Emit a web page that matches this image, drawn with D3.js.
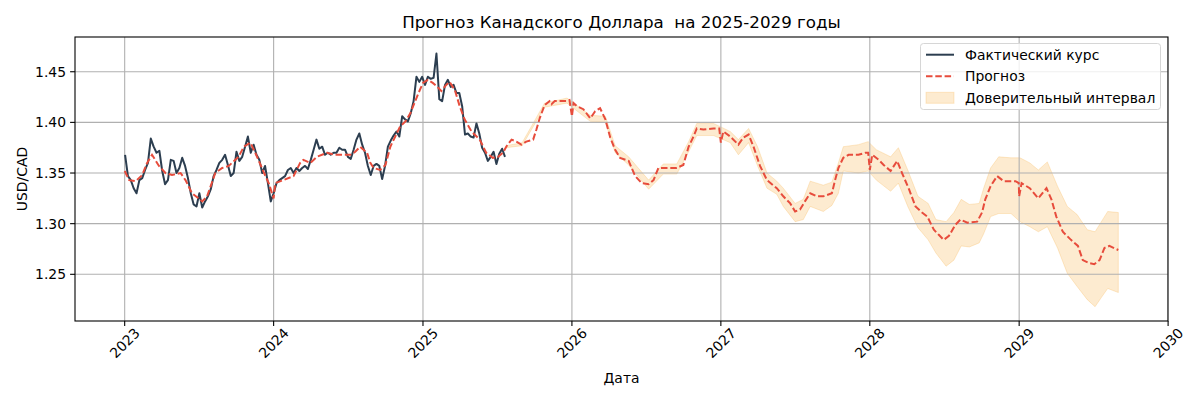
<!DOCTYPE html>
<html><head><meta charset="utf-8">
<script src="https://cdn.jsdelivr.net/npm/d3@7"></script>
<style>body{margin:0;background:#fff} text{font-family:"DejaVu Sans",sans-serif;fill:#000}</style>
</head><body><svg id="c" width="1200" height="400"></svg>
<script>
// ---------- data ----------
const actualStart = "2023-01-02";
const actualStepDays = 7;
const actualValues = [
1.368,1.347,1.343,1.335,1.330,1.343,1.345,1.353,1.360,1.384,
1.376,1.370,1.372,1.352,1.339,1.343,1.363,1.362,1.350,1.355,
1.365,1.357,1.345,1.330,1.319,1.317,1.330,1.316,1.322,1.327,
1.334,1.347,1.353,1.360,1.363,1.368,1.358,1.347,1.350,1.371,
1.362,1.366,1.376,1.386,1.370,1.378,1.368,1.363,1.350,1.357,
1.340,1.322,1.330,1.340,1.343,1.345,1.347,1.353,1.355,1.350,
1.355,1.352,1.355,1.357,1.354,1.363,1.373,1.383,1.374,1.376,
1.368,1.370,1.368,1.370,1.370,1.375,1.373,1.373,1.366,1.364,
1.373,1.383,1.389,1.378,1.370,1.357,1.348,1.357,1.359,1.357,
1.344,1.357,1.376,1.382,1.387,1.391,1.386,1.406,1.403,1.401,
1.409,1.421,1.445,1.440,1.445,1.437,1.445,1.443,1.444,1.468,
1.423,1.421,1.437,1.442,1.435,1.437,1.429,1.429,1.416,1.388,
1.389,1.386,1.385,1.399,1.389,1.375,1.370,1.362,1.366,1.371,
1.359,1.369,1.374,1.366];

const forecastDates = [
"2023-01-01","2023-01-12","2023-01-28","2023-02-13","2023-02-25","2023-03-09","2023-03-26","2023-04-11","2023-04-27","2023-05-18",
"2023-05-30","2023-06-15","2023-07-10","2023-07-22","2023-08-11","2023-08-28","2023-09-13","2023-10-07","2023-10-20","2023-11-05",
"2023-11-17","2023-11-30","2023-12-12","2023-12-20","2024-01-01","2024-01-05","2024-01-25","2024-02-19","2024-03-06","2024-03-14",
"2024-03-31","2024-04-16","2024-05-11","2024-05-31","2024-06-20","2024-07-07","2024-07-19","2024-07-31","2024-08-17","2024-08-25",
"2024-09-02","2024-09-18","2024-10-01","2024-10-13","2024-10-25","2024-11-06","2024-11-19","2024-12-01","2024-12-13","2024-12-21",
"2025-01-01","2025-01-13","2025-01-25","2025-02-03","2025-02-15","2025-02-27","2025-03-07","2025-03-20","2025-04-01","2025-04-13",
"2025-04-30","2025-05-20","2025-06-05","2025-06-21","2025-07-04","2025-07-16","2025-07-24","2025-08-06","2025-08-18","2025-08-30",
"2025-09-11","2025-09-28","2025-10-06","2025-10-14","2025-10-26","2025-11-07","2025-11-12","2025-11-20","2025-12-18","2025-12-26",
"2026-01-01","2026-01-05","2026-01-13","2026-01-29","2026-02-15","2026-02-27","2026-03-11","2026-03-24","2026-04-05","2026-04-17",
"2026-04-29","2026-05-20","2026-06-05","2026-06-21","2026-07-08","2026-07-20","2026-08-01","2026-08-13","2026-08-30","2026-09-15",
"2026-10-01","2026-10-14","2026-10-26","2026-11-03","2026-11-19","2026-12-14","2026-12-28","2027-01-01","2027-01-07","2027-01-24",
"2027-02-13","2027-02-25","2027-03-10","2027-03-22","2027-04-07","2027-04-24","2027-05-18","2027-06-03","2027-06-20","2027-07-02",
"2027-07-14","2027-07-26","2027-08-08","2027-08-24","2027-09-09","2027-09-30","2027-10-08","2027-10-16","2027-10-28","2027-11-10",
"2027-12-04","2027-12-21","2027-12-28","2028-01-01","2028-01-07","2028-01-23","2028-02-04","2028-02-21","2028-03-08","2028-03-20",
"2028-04-06","2028-04-22","2028-05-08","2028-05-21","2028-06-06","2028-06-18","2028-06-30","2028-07-13","2028-07-29","2028-08-10",
"2028-08-27","2028-09-20","2028-10-02","2028-10-10","2028-10-23","2028-11-08","2028-11-24","2028-12-23","2028-12-31","2029-01-01",
"2029-01-07","2029-01-27","2029-02-17","2029-03-09","2029-03-21","2029-04-02","2029-04-18","2029-05-08","2029-05-25","2029-06-06",
"2029-06-22","2029-07-04","2029-07-17","2029-07-29","2029-08-10","2029-09-01"];
const forecastValues = [
1.352,1.343,1.342,1.348,1.360,1.368,1.357,1.350,1.348,1.350,
1.343,1.330,1.322,1.327,1.350,1.355,1.357,1.366,1.376,1.380,
1.370,1.358,1.347,1.340,1.325,1.340,1.343,1.347,1.360,1.363,
1.360,1.366,1.370,1.368,1.368,1.368,1.371,1.376,1.370,1.360,
1.355,1.353,1.358,1.376,1.386,1.396,1.401,1.409,1.421,1.429,
1.439,1.442,1.439,1.436,1.431,1.437,1.440,1.432,1.416,1.403,
1.391,1.383,1.370,1.365,1.366,1.370,1.376,1.383,1.381,1.378,
1.381,1.383,1.393,1.404,1.417,1.421,1.418,1.421,1.421,1.422,
1.406,1.419,1.416,1.413,1.404,1.411,1.414,1.403,1.385,1.373,
1.365,1.362,1.347,1.340,1.339,1.343,1.355,1.355,1.355,1.355,
1.358,1.376,1.386,1.394,1.393,1.394,1.394,1.380,1.391,1.386,
1.378,1.385,1.388,1.376,1.357,1.343,1.335,1.327,1.320,1.312,
1.314,1.322,1.330,1.327,1.327,1.330,1.343,1.355,1.365,1.368,
1.368,1.370,1.370,1.353,1.368,1.363,1.358,1.352,1.362,1.350,
1.334,1.317,1.311,1.307,1.294,1.289,1.284,1.288,1.299,1.304,
1.301,1.302,1.311,1.324,1.337,1.347,1.342,1.342,1.340,1.327,
1.340,1.335,1.325,1.335,1.324,1.307,1.292,1.284,1.278,1.264,
1.261,1.260,1.264,1.276,1.278,1.274];

const ciDates = [
"2025-07-24","2025-09-01","2025-10-26","2025-12-20","2026-02-15","2026-03-24","2026-04-17","2026-05-20","2026-07-08","2026-08-13",
"2026-09-15","2026-10-14","2026-11-03","2026-12-14","2027-01-24","2027-02-13","2027-03-10","2027-04-01","2027-04-24","2027-05-18",
"2027-06-03","2027-07-02","2027-07-22","2027-08-08","2027-09-09","2027-09-30","2027-10-16","2027-10-28","2027-12-04","2027-12-28",
"2028-01-17","2028-02-21","2028-03-11","2028-04-03","2028-04-28","2028-05-23","2028-06-11","2028-07-06","2028-07-25","2028-08-12",
"2028-09-01","2028-09-25","2028-10-06","2028-10-23","2028-11-12","2028-12-12","2029-01-03","2029-01-27","2029-02-17","2029-03-11",
"2029-04-05","2029-04-29","2029-05-23","2029-06-17","2029-07-06","2029-07-23","2029-08-06","2029-09-01"];
const ciUpper = [
1.377,1.380,1.419,1.424,1.407,1.406,1.377,1.366,1.343,1.359,
1.359,1.381,1.399,1.399,1.391,1.383,1.394,1.376,1.350,1.342,
1.335,1.320,1.324,1.342,1.338,1.341,1.360,1.376,1.378,1.381,
1.373,1.366,1.375,1.353,1.327,1.320,1.304,1.302,1.311,1.324,
1.319,1.320,1.335,1.355,1.366,1.365,1.365,1.360,1.353,1.361,
1.337,1.317,1.309,1.294,1.292,1.303,1.312,1.311];
const ciLower = [
1.375,1.377,1.415,1.419,1.401,1.400,1.370,1.358,1.334,1.349,
1.349,1.371,1.387,1.387,1.380,1.368,1.380,1.357,1.335,1.329,
1.317,1.302,1.304,1.317,1.312,1.318,1.330,1.352,1.350,1.352,
1.343,1.332,1.340,1.317,1.296,1.284,1.271,1.258,1.264,1.278,
1.277,1.281,1.290,1.307,1.310,1.310,1.302,1.297,1.292,1.297,
1.276,1.251,1.238,1.225,1.218,1.228,1.236,1.232];

const yTickValues = [1.25, 1.30, 1.35, 1.40, 1.45];
const xTickYears = [2023, 2024, 2025, 2026, 2027, 2028, 2029, 2030];
const titleText = "Прогноз Канадского Доллара  на 2025-2029 годы";
const xLabel = "Дата";
const yLabel = "USD/CAD";
const legendLabels = ["Фактический курс", "Прогноз", "Доверительный интервал"];

// ---------- layout ----------
const L = 75, R = 1168, T = 37, B = 321;
const C_ACTUAL = "#2c3e50", C_FC = "#e74c3c", C_CI = "#f39c12";
const parse = d3.utcParse("%Y-%m-%d");

const actual = actualValues.map((v, i) => ({d: d3.utcDay.offset(parse(actualStart), i * actualStepDays), v}));
const forecast = forecastDates.map((d, i) => ({d: parse(d), v: forecastValues[i]}));
const ci = ciDates.map((d, i) => ({d: parse(d), u: ciUpper[i], l: ciLower[i]}));

const allDates = actual.map(p => p.d).concat(forecast.map(p => p.d));
const [d0, d1] = d3.extent(allDates);
const pad = (d1 - d0) * 0.05;
const x = d3.scaleUtc().domain([new Date(+d0 - pad), new Date(+d1 + pad)]).range([L, R]);
const y = d3.scaleLinear().domain([1.2039, 1.4843]).range([B, T]);

const svg = d3.select("#c");
svg.append("rect").attr("width", 1200).attr("height", 400).attr("fill", "#fff");

svg.append("defs").append("clipPath").attr("id", "clip")
  .append("rect").attr("x", L).attr("y", T).attr("width", R - L).attr("height", B - T);
const plot = svg.append("g").attr("clip-path", "url(#clip)");

// CI
plot.append("path").datum(ci)
  .attr("d", d3.area().x(p => x(p.d)).y0(p => y(p.l)).y1(p => y(p.u)))
  .attr("fill", C_CI).attr("fill-opacity", 0.2)
  .attr("stroke", C_CI).attr("stroke-opacity", 0.2).attr("stroke-width", 1);

// grid
const xTickDates = xTickYears.map(yr => new Date(Date.UTC(yr, 0, 1)));
plot.append("g").selectAll("line").data(xTickDates).join("line")
  .attr("x1", d => x(d)).attr("x2", d => x(d)).attr("y1", T).attr("y2", B)
  .attr("stroke", "#b0b0b0").attr("stroke-width", 1.1);
plot.append("g").selectAll("line").data(yTickValues).join("line")
  .attr("x1", L).attr("x2", R).attr("y1", d => y(d)).attr("y2", d => y(d))
  .attr("stroke", "#b0b0b0").attr("stroke-width", 1.1);

// lines
plot.append("path").datum(actual)
  .attr("d", d3.line().x(p => x(p.d)).y(p => y(p.v)))
  .attr("fill", "none").attr("stroke", C_ACTUAL).attr("stroke-width", 2).attr("stroke-linejoin", "round");
plot.append("path").datum(forecast)
  .attr("d", d3.line().x(p => x(p.d)).y(p => y(p.v)))
  .attr("fill", "none").attr("stroke", C_FC).attr("stroke-width", 2)
  .attr("stroke-dasharray", "6.5,2.8");

// spines
svg.append("rect").attr("x", L).attr("y", T).attr("width", R - L).attr("height", B - T)
  .attr("fill", "none").attr("stroke", "#000").attr("stroke-width", 1.1);

// x ticks
const xt = svg.append("g");
xTickDates.forEach((d, i) => {
  const px = x(d);
  xt.append("line").attr("x1", px).attr("x2", px).attr("y1", B).attr("y2", B + 4.9).attr("stroke", "#000").attr("stroke-width", 1.1);
  xt.append("text").attr("transform", `translate(${px},${B + 22}) rotate(-45)`)
    .attr("text-anchor", "middle").attr("dominant-baseline", "central")
    .attr("font-size", 13.9).text(xTickYears[i]);
});
// y ticks
const yt = svg.append("g");
yTickValues.forEach(v => {
  const py = y(v);
  yt.append("line").attr("x1", L - 4.9).attr("x2", L).attr("y1", py).attr("y2", py).attr("stroke", "#000").attr("stroke-width", 1.1);
  yt.append("text").attr("x", L - 9).attr("y", py).attr("text-anchor", "end").attr("dominant-baseline", "central")
    .attr("font-size", 13.9).text(d3.format(".2f")(v));
});

// labels
svg.append("text").attr("x", (L + R) / 2).attr("y", 28).attr("text-anchor", "middle")
  .attr("font-size", 16.7).style("white-space", "pre").text(titleText);
svg.append("text").attr("x", (L + R) / 2).attr("y", 383).attr("text-anchor", "middle")
  .attr("font-size", 13.9).text(xLabel);
svg.append("text").attr("transform", `translate(27,${(T + B) / 2}) rotate(-90)`).attr("text-anchor", "middle")
  .attr("font-size", 13.9).text(yLabel);

// legend
const lg = svg.append("g");
lg.append("rect").attr("x", 920.5).attr("y", 43.5).attr("width", 240).attr("height", 66).attr("rx", 3)
  .attr("fill", "#fff").attr("fill-opacity", 0.8).attr("stroke", "#d6d6d6").attr("stroke-width", 1);
const rows = [54.7, 76.3, 97.8];
lg.append("line").attr("x1", 926).attr("x2", 954).attr("y1", rows[0]).attr("y2", rows[0])
  .attr("stroke", C_ACTUAL).attr("stroke-width", 2);
lg.append("line").attr("x1", 926).attr("x2", 954).attr("y1", rows[1]).attr("y2", rows[1])
  .attr("stroke", C_FC).attr("stroke-width", 2).attr("stroke-dasharray", "6.5,2.8");
lg.append("rect").attr("x", 926).attr("y", rows[2] - 5.5).attr("width", 28).attr("height", 11)
  .attr("fill", C_CI).attr("fill-opacity", 0.2).attr("stroke", C_CI).attr("stroke-opacity", 0.2);
legendLabels.forEach((t, i) => {
  lg.append("text").attr("x", 965).attr("y", rows[i]).attr("dominant-baseline", "central")
    .attr("font-size", 13.9).text(t);
});
</script></body></html>
